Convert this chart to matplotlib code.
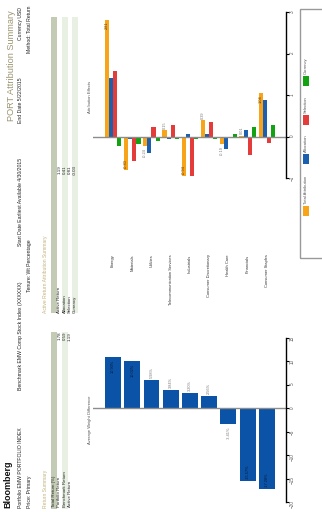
import numpy as np
import matplotlib.pyplot as plt
from matplotlib.patches import Rectangle

plt.rcParams['font.family'] = ['Liberation Sans', 'DejaVu Sans']

# 数据
sectors = ["Energy", "Materials", "Utilities", "Telecommunication Services", "Industrials",
           "Consumer Discretionary", "Health Care", "Financials", "Consumer Staples"]
total_attr = [2.81, -0.80, -0.24, 0.15, -0.94, 0.39, -0.19, 0.01, 1.04]
allocation = [1.42, -0.07, -0.39, -0.07, 0.05, 0.07, -0.29, 0.15, 0.87]
selection = [1.57, -0.60, 0.22, 0.27, -0.96, 0.34, -0.02, -0.44, -0.15]
currency = [-0.22, -0.19, -0.11, -0.07, -0.07, -0.07, 0.05, 0.24, 0.27]
avg_weight_diff = [10.90, 10.02, 5.98, 3.84, 3.20, 2.56, -3.41, -15.57, -17.28]

series_names = ["Total Attribution", "Allocation", "Selection", "Currency"]
series_colors = ['#f8a41b', '#1b5fae', '#e43b3b', '#12a212']

return_rows = ["Portfolio Return", "Benchmark Return", "Active Return"]
return_vals = [1.78, 0.59, 1.19]
active_rows = ["Active Return", "Allocation", "Selection", "Currency"]
active_vals = [1.19, 0.41, 0.81, -0.03]

W, H = 322, 512


def fx(px):
    return px / W


def fy(py):
    return 1 - py / H


def vtext(x, y, s, va='bottom', **kw):
    # 竖排文字 (从下往上读)
    fig.text(fx(x), fy(y), s, rotation=90, ha='center', va=va, **kw)


fig = plt.figure(figsize=(W / 100, H / 100), dpi=100)
x = np.arange(len(sectors))
xlim = (-1.04, 8.99)

# 页眉
vtext(8, 508, "Bloomberg", fontsize=6.5, fontweight='bold', color='#111')
vtext(12, 121, "PORT Attribution Summary", fontsize=6.6, color='#9c9470')
vtext(20.5, 508, "Portfolio EMW PORTFOLIO INDEX", fontsize=3.7, color='#222')
vtext(20.5, 390, "Benchmark EMW Comp Stock Index (XXXXXX)", fontsize=3.7, color='#222')
vtext(20.5, 246, "Start Date Earliest Available 4/30/2015", fontsize=3.7, color='#222')
vtext(20.5, 123, "End Date 5/22/2015", fontsize=3.7, color='#222')
vtext(20.5, 40, "Currency USD", fontsize=3.7, color='#222')
vtext(29.5, 508, "Price: Primary", fontsize=3.7, color='#222')
vtext(29.5, 292, "Tenure: Wt Percentage", fontsize=3.7, color='#222')
vtext(29.5, 53, "Method: Total Return", fontsize=3.7, color='#222')

# 表格
row_x = [59.5, 65, 70, 75]


def band(x0, x1, y0, y1, color):
    fig.add_artist(Rectangle((fx(x0), fy(y1)), fx(x1) - fx(x0), (y1 - y0) / H,
                             transform=fig.transFigure, color=color, lw=0))


band(51, 57, 332, 509, '#c3cbb4')
band(62, 68, 332, 509, '#e8f0e3')
vtext(45.5, 508, "Return Summary", fontsize=3.6, color='#c4b27a')
vtext(54, 507, "Total Return (%)", fontsize=3.2, color='#222')
for rx, name, v in zip(row_x, return_rows, return_vals):
    vtext(rx, 507, name, fontsize=3.2, color='#222')
    vtext(rx, 332, f"{v:.2f}", va='top', fontsize=3.2, color='#222')

band(51, 57, 17, 313, '#c3cbb4')
band(62, 68, 17, 313, '#e8f0e3')
band(72, 78, 17, 313, '#e8f0e3')
vtext(45.5, 313, "Active Return Attribution Summary", fontsize=3.6, color='#c4b27a')
for rx, name, v in zip(row_x, active_rows, active_vals):
    vtext(rx, 313, name, fontsize=3.2, color='#222')
    vtext(rx, 165, f"{v:.2f}", va='top', fontsize=3.2, color='#222')

# 归因图
ax1 = fig.add_axes([fx(93), fy(178), fx(286) - fx(93), (178 - 12) / H])
bw = 0.215
for k, (vals, col) in enumerate(zip([total_attr, allocation, selection, currency], series_colors)):
    ax1.bar(x + (k - 1.5) * bw, vals, bw, color=col, lw=0)
for xi, v in zip(x, total_attr):
    s = 1 if v >= 0 else -1
    if abs(v) > 0.6:
        ax1.text(xi - 1.5 * bw, v - s * 0.04, f"{v:.2f}", rotation=90, ha='center',
                 va='top' if s > 0 else 'bottom', fontsize=2.8, color='#5a3a00')
    else:
        ax1.text(xi - 1.5 * bw, v + s * 0.04, f"{v:.2f}", rotation=90, ha='center',
                 va='bottom' if s > 0 else 'top', fontsize=2.8, color='#777')
ax1.axhline(0, color='#8c8c8c', lw=1)
ax1.set_xlim(*xlim)
ax1.set_ylim(-1, 3)
ax1.set_yticks([-1, 0, 1, 2, 3])
ax1.set_xticks(x)
ax1.set_xticklabels(sectors, rotation=90, fontsize=2.9, color='#333')
ax1.tick_params(axis='x', length=0, pad=55)

# 平均权重差
ax2 = fig.add_axes([fx(93), fy(502), fx(286) - fx(93), (502 - 338) / H])
ax2.bar(x, avg_weight_diff, 0.83, color='#0b53a6', lw=0)
for xi, v in zip(x, avg_weight_diff):
    s = 1 if v >= 0 else -1
    if abs(v) > 8:
        ax2.text(xi, v - s * 0.5, f"{v:.2f}%", rotation=90, ha='center',
                 va='top' if s > 0 else 'bottom', fontsize=2.8, color='#0a1a3a')
    else:
        ax2.text(xi, v + s * 0.5, f"{v:.2f}%", rotation=90, ha='center',
                 va='bottom' if s > 0 else 'top', fontsize=2.8, color='#777')
ax2.axhline(0, color='#8c8c8c', lw=1)
ax2.set_xlim(*xlim)
ax2.set_ylim(-20, 15)
ax2.set_yticks(range(-20, 16, 5))
ax2.set_xticks([])

for ax in (ax1, ax2):
    for sp in ('top', 'left', 'bottom'):
        ax.spines[sp].set_visible(False)
    ax.spines['right'].set_color('black')
    ax.spines['right'].set_linewidth(1)
    ax.yaxis.tick_right()
    ax.tick_params(axis='y', length=2, width=0.8, pad=1, labelsize=3.3,
                   labelrotation=90, labelcolor='#555')
    ax.patch.set_visible(False)

vtext(90, 97, "Attribution Effects", va='center', fontsize=3, color='#555')
vtext(90, 420, "Average Weight Difference", va='center', fontsize=3, color='#555')

# 图例 (手工绘制)
fig.add_artist(Rectangle((fx(300), fy(258)), 0.2, (258 - 9) / H, transform=fig.transFigure,
                         fill=False, edgecolor='#999', lw=1))
legend_y = [216, 164, 125, 86]
for ly, name, col in zip(legend_y, series_names, series_colors):
    fig.add_artist(Rectangle((fx(303), fy(ly)), fx(6), 10 / H, transform=fig.transFigure,
                             color=col, lw=0))
    vtext(306, ly - 12, name, fontsize=3, color='#555')

plt.savefig("out.png", dpi=100)
